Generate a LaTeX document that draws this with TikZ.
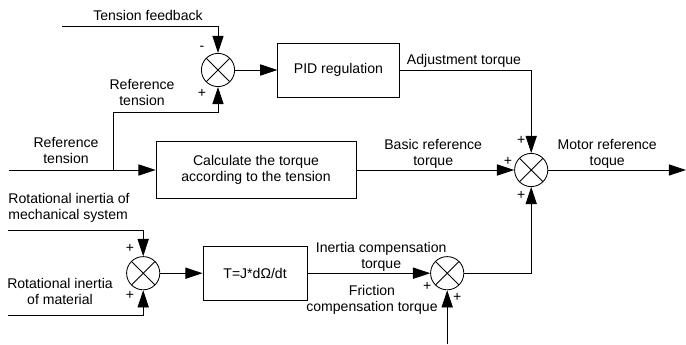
\documentclass[tikz,border=0pt]{standalone}
\usepackage{fontspec}
\setmainfont{Liberation Sans}
\usetikzlibrary{arrows.meta,positioning,calc}

\begin{document}
\begin{tikzpicture}[
    font=\fontsize{10}{11.4}\selectfont,
    line width=0.6pt,
    box/.style={rectangle, draw=black, minimum width=3.03cm, minimum height=1.35cm, align=center},
    sum/.style={circle, draw=black, minimum size=0.83cm, inner sep=0pt,
        path picture={\draw (path picture bounding box.north west) -- (path picture bounding box.south east)
                            (path picture bounding box.south west) -- (path picture bounding box.north east);}},
    arrow/.style={-{Triangle[length=4.3mm, width=2.8mm]}},
    lbl/.style={align=center, inner sep=0pt},
    sign/.style={inner sep=0pt}
]
\useasboundingbox (0,0) rectangle (17.15,-8.6);

% Summing junctions
\node[sum] (s1) at (5.45,-1.75) {};
\node[sum] (s2) at (13.28,-4.25) {};
\node[sum] (s3) at (3.58,-6.83) {};
\node[sum] (s4) at (11.18,-6.83) {};

% Blocks
\node[box, right=1.06cm of s1] (pid) {PID regulation};
\node[box, minimum width=5cm, minimum height=1.43cm] (calc) at (6.4,-4.25) {Calculate the torque\\according to the tension};
\node[box, minimum width=2.6cm, right=1.06cm of s3] (tj) {T=J*dΩ/dt};

% Free ends
\coordinate (tfb) at (1.55,-0.65);
\coordinate (refin) at (0.22,-4.25);
\coordinate (branch) at (2.84,-4.25);
\coordinate (out) at (17.15,-4.25);
\coordinate (rmech) at (0.2,-5.75);
\coordinate (rmat) at (0.2,-7.88);
\coordinate (fric) at (11.18,-8.6);

% Connectors
\draw[arrow] (tfb) -| (s1.north);
\draw[arrow] (branch) -- ++(0,1.45) -| (s1.south);
\draw[arrow] (refin) -- (calc.west);
\draw[arrow] (s1.east) -- (pid.west);
\draw[arrow] (pid.east) -| (s2.north);
\draw[arrow] (calc.east) -- (s2.west);
\draw[arrow] (s2.east) -- (out);
\draw[arrow] (rmech) -| (s3.north);
\draw[arrow] (rmat) -| (s3.south);
\draw[arrow] (s3.east) -- (tj.west);
\draw[arrow] (tj.east) -- (s4.west);
\draw[arrow] (fric) -- (s4.south);
\draw[arrow] (s4.east) -| (s2.south);

% Labels
\node[lbl] (tfbl) at (3.7,-0.375) {Tension feedback};
\node[lbl] (refl1) at (3.55,-2.31) {Reference\\tension};
\node[lbl] (refl2) at (1.65,-3.76) {Reference\\tension};
\node[lbl] (adjl) at (11.6,-1.52) {Adjustment torque};
\node[lbl] (basicl) at (10.83,-3.85) {Basic reference\\torque};
\node[lbl] (motorl) at (15.18,-3.85) {Motor reference\\toque};
\node[lbl, align=left, anchor=west] (rmechl) at (0.2,-5.2) {Rotational inertia of\\mechanical system};
\node[lbl] (rmatl) at (1.5,-7.29) {Rotational inertia\\of material};
\node[lbl] (inertl) at (9.53,-6.43) {Inertia compensation\\torque};
\node[lbl] (fricl) at (9.3,-7.49) {Friction\\compensation torque};

% Signs
\node[sign] (s1a) at ($(s1)+(-0.4,0.55)$) {-};
\node[sign] (s1b) at ($(s1)+(-0.4,-0.58)$) {+};
\node[sign] (s2a) at ($(s2)+(-0.25,0.75)$) {+};
\node[sign] (s2b) at ($(s2)+(-0.58,0.22)$) {+};
\node[sign] (s2c) at ($(s2)+(-0.25,-0.63)$) {+};
\node[sign] (s3a) at ($(s3)+(-0.33,0.63)$) {+};
\node[sign] (s3b) at ($(s3)+(-0.33,-0.55)$) {+};
\node[sign] (s4a) at ($(s4)+(-0.5,-0.32)$) {+};
\node[sign] (s4b) at ($(s4)+(0.25,-0.6)$) {+};

\end{tikzpicture}
\end{document}
